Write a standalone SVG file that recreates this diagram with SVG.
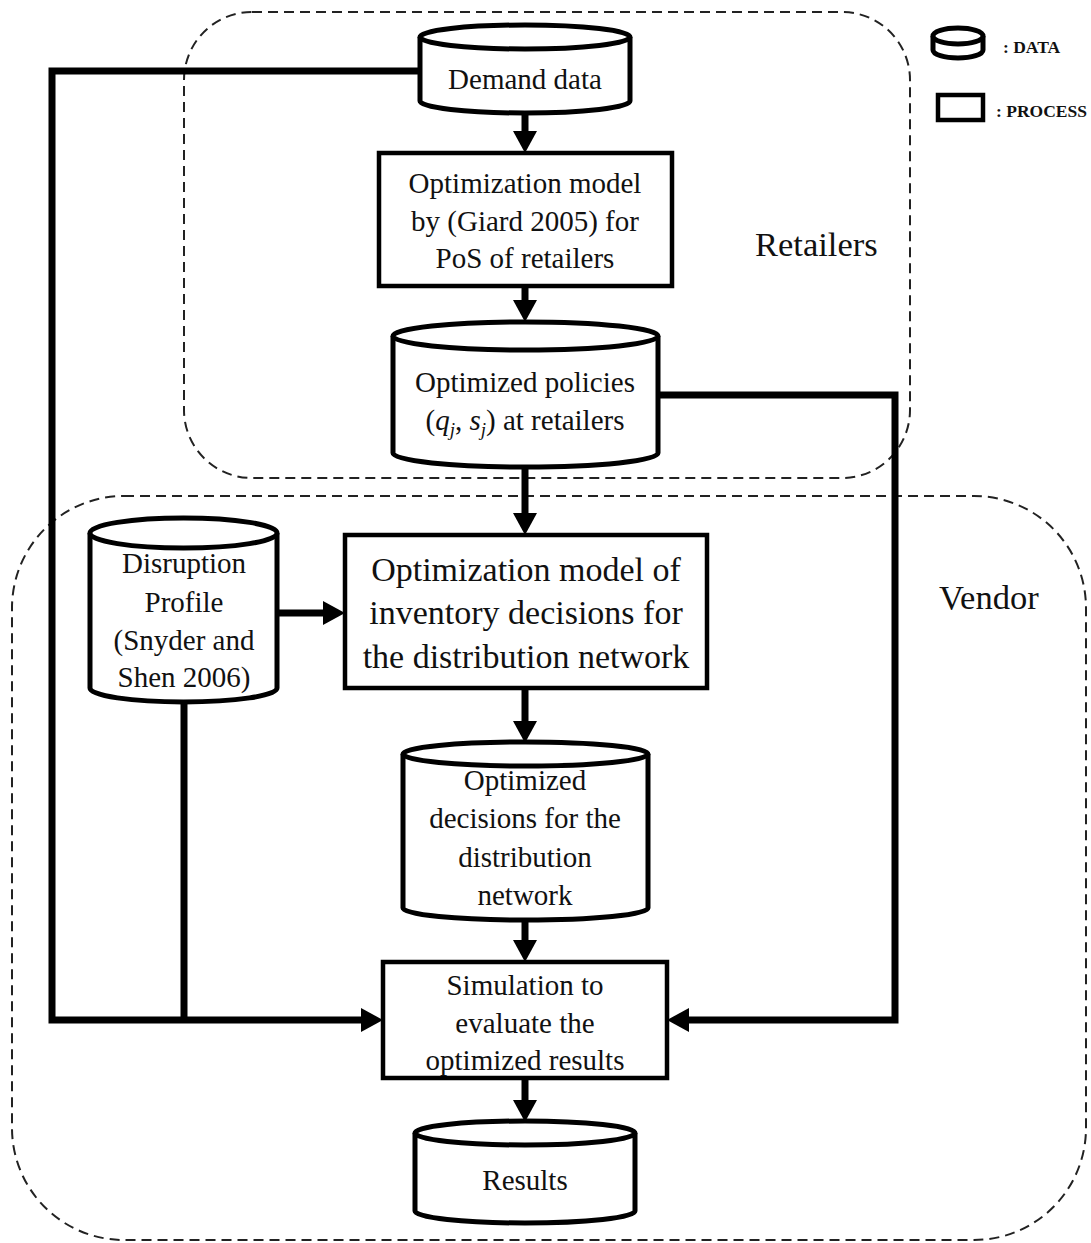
<svg xmlns="http://www.w3.org/2000/svg" width="1091" height="1243" viewBox="0 0 1091 1243">
<style>
.txt{font-family:"Liberation Serif","Times New Roman",serif;font-size:29px;fill:#111;text-anchor:middle}
.big{font-size:34px}
.lab{font-family:"Liberation Serif","Times New Roman",serif;font-size:34.5px;fill:#111}
.leg{font-family:"Liberation Serif","Times New Roman",serif;font-size:17.5px;font-weight:bold;fill:#111}
.cyl{fill:#fff;stroke:#000;stroke-width:5;stroke-linejoin:round}
.box{fill:#fff;stroke:#000;stroke-width:4.5}
.dash{fill:none;stroke:#222;stroke-width:2;stroke-dasharray:10 6}
.con{fill:none;stroke:#000;stroke-width:7}
.arr{marker-end:url(#ah)}
.it{font-style:italic}
</style>
<defs>
<marker id="ah" viewBox="0 0 22 24" refX="11" refY="12" markerWidth="22" markerHeight="24" markerUnits="userSpaceOnUse" orient="auto">
<path d="M0,0 L22,12 L0,24 z" fill="#000"/>
</marker>
</defs>
<rect width="1091" height="1243" fill="#fff"/>
<g id="regions">
<rect id="retailers-region" class="dash" x="184" y="12" width="726" height="466" rx="68" ry="68"/>
<rect id="vendor-region" class="dash" x="12" y="496" width="1074" height="744" rx="112" ry="112"/>
<text class="lab" x="755" y="256">Retailers</text>
<text class="lab" x="939" y="609">Vendor</text>
</g>
<g id="connectors">
<path class="con arr" d="M525,113 V142"/>
<path class="con arr" d="M525,286 V311"/>
<path class="con arr" d="M525,467 V524"/>
<path class="con arr" d="M277,613 H334"/>
<path class="con arr" d="M525,688 V732"/>
<path class="con arr" d="M525,920 V951"/>
<path class="con arr" d="M525,1078 V1111"/>
<path class="con arr" d="M420,71 H52 V1020 H372" stroke-linejoin="miter"/>
<path class="con" d="M184,702 V1020"/>
<path class="con arr" d="M658,395 H895 V1020 H678" stroke-linejoin="miter"/>
</g>
<g id="demand-data">
<path class="cyl" d="M420,37 V101 A105,12 0 0 0 630,101 V37"/>
<ellipse class="cyl" cx="525" cy="37" rx="105" ry="12"/>
<text class="txt" x="525" y="89">Demand data</text>
</g>
<g id="giard-model">
<rect class="box" x="379" y="153" width="293" height="133"/>
<text class="txt" x="525" y="193">Optimization model</text>
<text class="txt" x="525" y="231">by (Giard 2005) for</text>
<text class="txt" x="525" y="268">PoS of retailers</text>
</g>
<g id="optimized-policies">
<path class="cyl" d="M393,336 V453 A132.5,14 0 0 0 658,453 V336"/>
<ellipse class="cyl" cx="525.5" cy="336" rx="132.5" ry="14"/>
<text class="txt" x="525" y="392">Optimized policies</text>
<text class="txt" x="525" y="430">(<tspan class="it">q</tspan><tspan class="it" font-size="19" dy="6">j</tspan><tspan dy="-6">, </tspan><tspan class="it">s</tspan><tspan class="it" font-size="19" dy="6">j</tspan><tspan dy="-6">) at retailers</tspan></text>
</g>
<g id="disruption-profile">
<path class="cyl" d="M90,533 V688 A93.5,14 0 0 0 277,688 V533"/>
<ellipse class="cyl" cx="183.5" cy="533" rx="93.5" ry="15"/>
<text class="txt" x="184" y="573">Disruption</text>
<text class="txt" x="184" y="612">Profile</text>
<text class="txt" x="184" y="650">(Snyder and</text>
<text class="txt" x="184" y="687">Shen 2006)</text>
</g>
<g id="inventory-model">
<rect class="box" x="345" y="535" width="362" height="153"/>
<text class="txt big" x="526" y="581">Optimization model of</text>
<text class="txt big" x="526" y="624">inventory decisions for</text>
<text class="txt big" x="526" y="668">the distribution network</text>
</g>
<g id="optimized-decisions">
<path class="cyl" d="M403,754 V908 A122.5,12 0 0 0 648,908 V754"/>
<ellipse class="cyl" cx="525.5" cy="754" rx="122.5" ry="12"/>
<text class="txt" x="525" y="790">Optimized</text>
<text class="txt" x="525" y="828">decisions for the</text>
<text class="txt" x="525" y="867">distribution</text>
<text class="txt" x="525" y="905">network</text>
</g>
<g id="simulation">
<rect class="box" x="383" y="962" width="284" height="116"/>
<text class="txt" x="525" y="995">Simulation to</text>
<text class="txt" x="525" y="1033">evaluate the</text>
<text class="txt" x="525" y="1070">optimized results</text>
</g>
<g id="results">
<path class="cyl" d="M415,1133 V1211 A110,12 0 0 0 635,1211 V1133"/>
<ellipse class="cyl" cx="525" cy="1133" rx="110" ry="12"/>
<text class="txt" x="525" y="1190">Results</text>
</g>
<g id="legend">
<path class="cyl" d="M933,36 V50 A25,8 0 0 0 983,50 V36" stroke-width="4"/>
<ellipse class="cyl" cx="958" cy="36" rx="25" ry="8" stroke-width="4"/>
<text class="leg" x="1003" y="53">: DATA</text>
<rect class="box" x="938" y="95" width="45" height="25" stroke-width="4"/>
<text class="leg" x="996" y="117">: PROCESS</text>
</g>
</svg>
